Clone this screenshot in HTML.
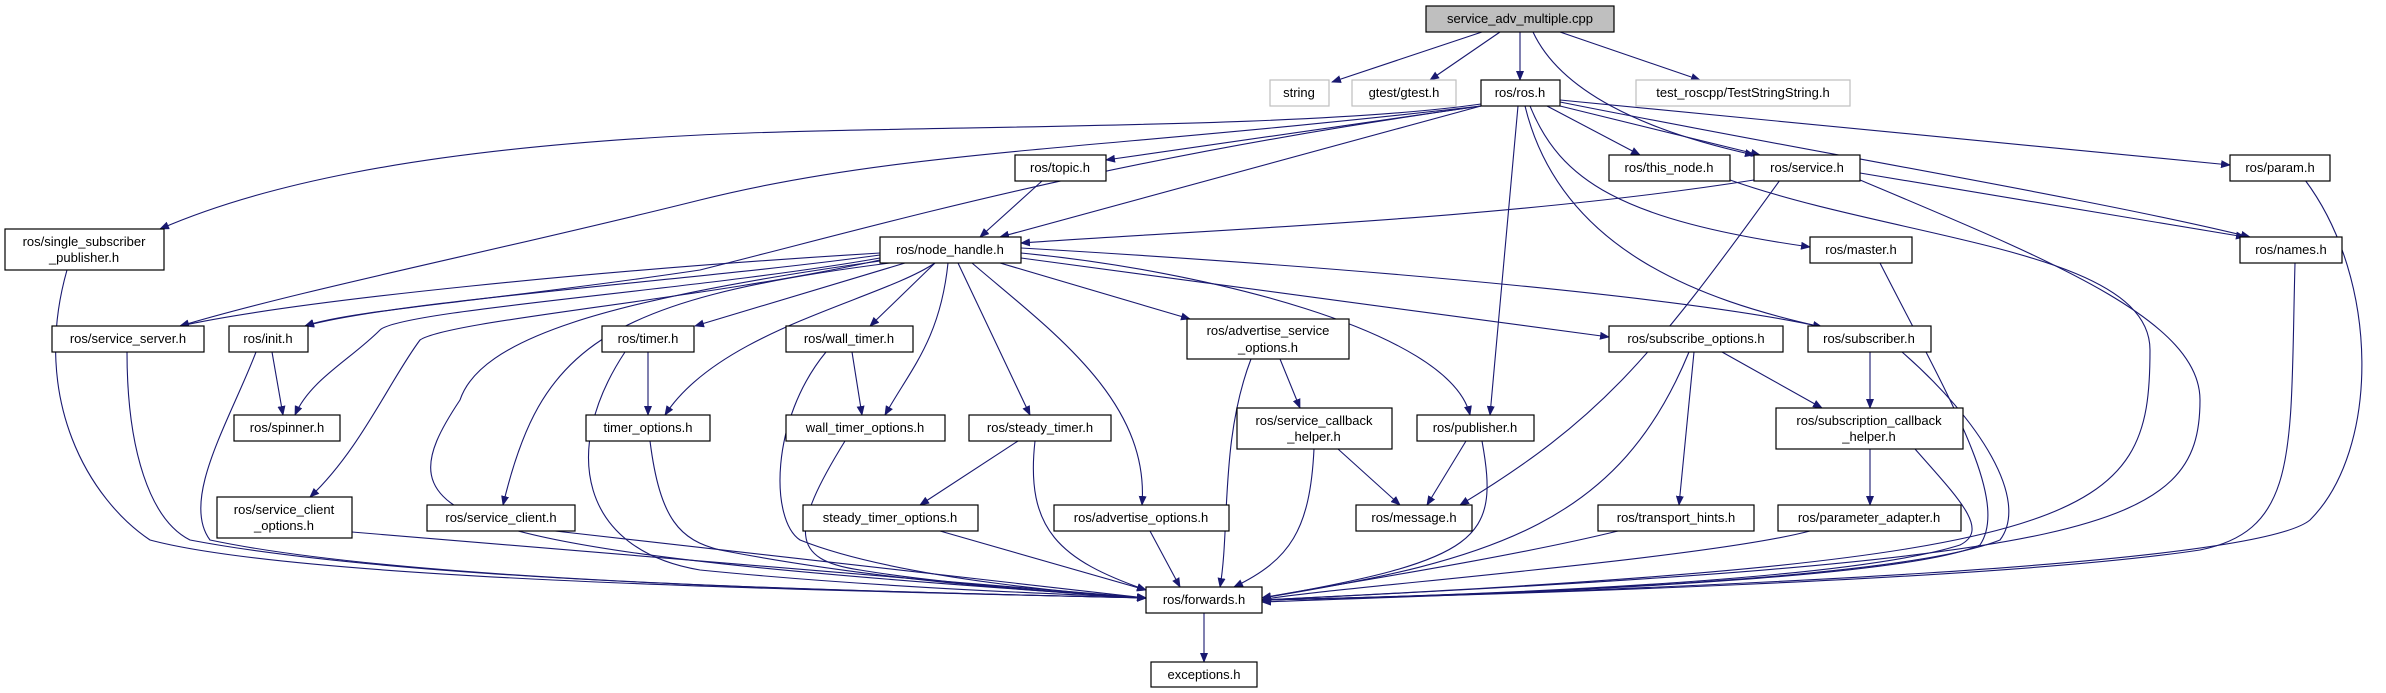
<!DOCTYPE html>
<html><head><meta charset="utf-8"><style>
html,body{margin:0;padding:0;background:#fff;}
svg{display:block;}
text{font-family:"Liberation Sans",sans-serif;font-size:13px;fill:#000;}
.e{fill:none;stroke:#191970;stroke-width:1.1;marker-end:url(#a);}
.n{fill:#fff;stroke:#000;stroke-width:1.2;}
.g{fill:#fff;stroke:#bfbfbf;stroke-width:1.2;}
</style></head><body>
<svg width="2386" height="693" viewBox="0 0 2386 693" xmlns="http://www.w3.org/2000/svg">
<defs><marker id="a" markerWidth="10" markerHeight="8" refX="9" refY="4" orient="auto" markerUnits="userSpaceOnUse"><path d="M0,0 L10,4 L0,8 z" fill="#191970"/></marker></defs>
<g>
<path class="e" d="M1482,32 L1332,82"/>
<path class="e" d="M1500,32 L1430,80"/>
<path class="e" d="M1520,32 L1520,80"/>
<path class="e" d="M1533,32 C1560,90 1640,130 1754,155"/>
<path class="e" d="M1560,32 L1700,80"/>
<path class="e" d="M1481,104 C1300,130 900,125 700,135 C400,150 250,190 160,229"/>
<path class="e" d="M1481,106 C1100,150 900,150 700,200 C500,250 300,290 180,326"/>
<path class="e" d="M1481,106 C1100,160 900,220 700,270 C500,300 350,310 305,326"/>
<path class="e" d="M1481,106 L1106,160"/>
<path class="e" d="M1481,106 L1000,237"/>
<path class="e" d="M1547,106 L1640,155"/>
<path class="e" d="M1560,106 L1760,155"/>
<path class="e" d="M1560,100 L2230,165"/>
<path class="e" d="M1560,102 C1800,150 2100,200 2250,237"/>
<path class="e" d="M1530,106 C1560,180 1620,220 1810,247"/>
<path class="e" d="M1518,106 L1490,415"/>
<path class="e" d="M1525,106 C1560,250 1700,300 1822,327"/>
<path class="e" d="M1754,180 C1500,220 1200,230 1021,243"/>
<path class="e" d="M1780,180 C1650,360 1600,420 1460,505"/>
<path class="e" d="M1860,173 L2245,237"/>
<path class="e" d="M1860,180 C2050,260 2200,320 2200,400 C2200,530 2100,560 1262,600"/>
<path class="e" d="M1730,180 C1900,240 2150,250 2150,350 C2150,520 2100,560 1262,600"/>
<path class="e" d="M2295,263 C2290,450 2300,530 2200,550 C2000,580 1500,595 1262,600"/>
<path class="e" d="M2305,180 C2380,280 2380,450 2310,520 C2250,570 1600,590 1262,602"/>
<path class="e" d="M1880,263 C1950,400 2010,500 1980,545 C1900,580 1500,595 1262,600"/>
<path class="e" d="M1902,352 C1980,420 2030,500 2000,540 C1900,580 1500,595 1262,600"/>
<path class="e" d="M1915,449 C1960,500 1990,530 1960,545 C1850,580 1500,595 1262,600"/>
<path class="e" d="M1870,352 L1870,408"/>
<path class="e" d="M1722,352 L1822,408"/>
<path class="e" d="M1694,352 L1679,505"/>
<path class="e" d="M1689,352 C1620,520 1500,560 1262,598"/>
<path class="e" d="M1870,449 L1870,505"/>
<path class="e" d="M1810,531 C1700,560 1300,590 1262,600"/>
<path class="e" d="M1618,531 C1500,560 1300,590 1262,598"/>
<path class="e" d="M1466,441 L1427,505"/>
<path class="e" d="M1482,441 C1500,540 1480,560 1262,598"/>
<path class="e" d="M1338,449 L1400,505"/>
<path class="e" d="M1314,449 C1310,530 1290,560 1234,587"/>
<path class="e" d="M1280,359 L1300,408"/>
<path class="e" d="M1251,359 C1220,440 1230,530 1220,587"/>
<path class="e" d="M1150,531 L1180,587"/>
<path class="e" d="M880,253 C600,270 300,300 180,326"/>
<path class="e" d="M880,255 C700,280 400,300 305,326"/>
<path class="e" d="M880,258 C700,290 400,310 380,330 C350,360 310,380 295,415"/>
<path class="e" d="M880,260 C700,300 450,320 420,340 C390,380 360,450 310,497"/>
<path class="e" d="M880,261 C600,300 480,340 460,400 C380,520 420,550 1146,598"/>
<path class="e" d="M890,263 C600,300 540,350 503,505"/>
<path class="e" d="M905,263 L695,326"/>
<path class="e" d="M935,263 C880,300 720,330 665,415"/>
<path class="e" d="M935,263 L870,326"/>
<path class="e" d="M948,263 C940,340 910,370 885,415"/>
<path class="e" d="M958,263 L1030,415"/>
<path class="e" d="M972,263 C1050,330 1150,400 1142,505"/>
<path class="e" d="M1000,263 L1190,319"/>
<path class="e" d="M1021,253 C1200,270 1450,330 1470,415"/>
<path class="e" d="M1021,258 L1609,337"/>
<path class="e" d="M1021,248 C1400,270 1700,300 1822,327"/>
<path class="e" d="M1042,181 L980,237"/>
<path class="e" d="M67,270 C30,400 90,500 150,540 C300,580 800,590 1146,598"/>
<path class="e" d="M127,352 C127,450 150,520 190,540 C400,580 800,590 1146,598"/>
<path class="e" d="M272,352 L283,415"/>
<path class="e" d="M256,352 C230,420 180,500 210,540 C400,580 800,590 1146,598"/>
<path class="e" d="M648,352 L648,415"/>
<path class="e" d="M625,352 C560,450 580,550 700,570 C900,590 1100,595 1146,598"/>
<path class="e" d="M650,441 C660,520 680,540 720,550 C900,585 1100,595 1146,598"/>
<path class="e" d="M852,352 L862,415"/>
<path class="e" d="M826,352 C770,420 770,520 800,540 C900,580 1100,595 1146,598"/>
<path class="e" d="M845,441 C790,530 790,560 860,570 C950,585 1100,595 1146,598"/>
<path class="e" d="M1018,441 L920,505"/>
<path class="e" d="M1035,441 C1025,530 1060,560 1146,590"/>
<path class="e" d="M940,531 L1146,590"/>
<path class="e" d="M352,532 L1146,598"/>
<path class="e" d="M555,531 L1146,598"/>
<path class="e" d="M1204,613 L1204,662"/>
</g>
<g text-anchor="middle">
<rect x="1426" y="6" width="188" height="26" fill="#bfbfbf" stroke="#000" stroke-width="1.2"/><text x="1520" y="23">service_adv_multiple.cpp</text>
<rect class="g" x="1270" y="80" width="59" height="26"/><text x="1299" y="97">string</text>
<rect class="g" x="1352" y="80" width="104" height="26"/><text x="1404" y="97">gtest/gtest.h</text>
<rect class="n" x="1481" y="80" width="79" height="26"/><text x="1520" y="97">ros/ros.h</text>
<rect class="g" x="1636" y="80" width="214" height="26"/><text x="1743" y="97">test_roscpp/TestStringString.h</text>
<rect class="n" x="1015" y="155" width="91" height="26"/><text x="1060" y="172">ros/topic.h</text>
<rect class="n" x="1609" y="155" width="121" height="26"/><text x="1669" y="172">ros/this_node.h</text>
<rect class="n" x="1754" y="155" width="106" height="26"/><text x="1807" y="172">ros/service.h</text>
<rect class="n" x="2230" y="155" width="100" height="26"/><text x="2280" y="172">ros/param.h</text>
<rect class="n" x="5" y="229" width="159" height="41"/><text x="84" y="246">ros/single_subscriber</text><text x="84" y="262">_publisher.h</text>
<rect class="n" x="880" y="237" width="141" height="26"/><text x="950" y="254">ros/node_handle.h</text>
<rect class="n" x="1810" y="237" width="102" height="26"/><text x="1861" y="254">ros/master.h</text>
<rect class="n" x="2240" y="237" width="102" height="26"/><text x="2291" y="254">ros/names.h</text>
<rect class="n" x="52" y="326" width="152" height="26"/><text x="128" y="343">ros/service_server.h</text>
<rect class="n" x="229" y="326" width="79" height="26"/><text x="268" y="343">ros/init.h</text>
<rect class="n" x="602" y="326" width="92" height="26"/><text x="648" y="343">ros/timer.h</text>
<rect class="n" x="786" y="326" width="127" height="26"/><text x="849" y="343">ros/wall_timer.h</text>
<rect class="n" x="1187" y="319" width="162" height="40"/><text x="1268" y="335">ros/advertise_service</text><text x="1268" y="352">_options.h</text>
<rect class="n" x="1609" y="326" width="174" height="26"/><text x="1696" y="343">ros/subscribe_options.h</text>
<rect class="n" x="1808" y="326" width="123" height="26"/><text x="1869" y="343">ros/subscriber.h</text>
<rect class="n" x="1237" y="408" width="155" height="41"/><text x="1314" y="425">ros/service_callback</text><text x="1314" y="441">_helper.h</text>
<rect class="n" x="1776" y="408" width="187" height="41"/><text x="1869" y="425">ros/subscription_callback</text><text x="1869" y="441">_helper.h</text>
<rect class="n" x="234" y="415" width="106" height="26"/><text x="287" y="432">ros/spinner.h</text>
<rect class="n" x="586" y="415" width="124" height="26"/><text x="648" y="432">timer_options.h</text>
<rect class="n" x="786" y="415" width="159" height="26"/><text x="865" y="432">wall_timer_options.h</text>
<rect class="n" x="969" y="415" width="142" height="26"/><text x="1040" y="432">ros/steady_timer.h</text>
<rect class="n" x="1417" y="415" width="117" height="26"/><text x="1475" y="432">ros/publisher.h</text>
<rect class="n" x="217" y="497" width="135" height="41"/><text x="284" y="514">ros/service_client</text><text x="284" y="530">_options.h</text>
<rect class="n" x="427" y="505" width="148" height="26"/><text x="501" y="522">ros/service_client.h</text>
<rect class="n" x="803" y="505" width="175" height="26"/><text x="890" y="522">steady_timer_options.h</text>
<rect class="n" x="1054" y="505" width="175" height="26"/><text x="1141" y="522">ros/advertise_options.h</text>
<rect class="n" x="1356" y="505" width="116" height="26"/><text x="1414" y="522">ros/message.h</text>
<rect class="n" x="1598" y="505" width="156" height="26"/><text x="1676" y="522">ros/transport_hints.h</text>
<rect class="n" x="1778" y="505" width="183" height="26"/><text x="1869" y="522">ros/parameter_adapter.h</text>
<rect class="n" x="1146" y="587" width="116" height="26"/><text x="1204" y="604">ros/forwards.h</text>
<rect class="n" x="1151" y="662" width="106" height="25"/><text x="1204" y="679">exceptions.h</text>
</g>
</svg>
</body></html>
